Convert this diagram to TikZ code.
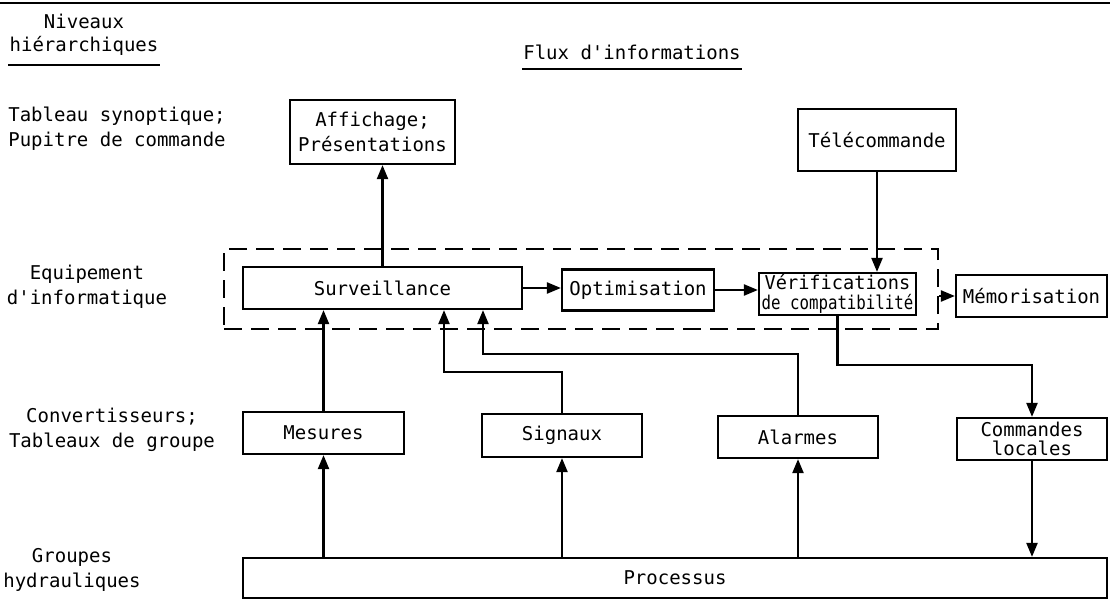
\documentclass[tikz,border=0pt]{standalone}
\usepackage{fontspec}
\usepackage{graphicx}
\setmonofont{DejaVu Sans Mono}
\usetikzlibrary{arrows.meta}
\begin{document}
\begin{tikzpicture}[x=1pt,y=-1pt,
  every node/.style={font=\ttfamily\fontsize{19}{25}\selectfont},
  box/.style={draw, line width=2.2pt, inner sep=0pt, align=center},
  lbl/.style={inner sep=1pt, align=center},
  ulbl/.style={inner xsep=1pt, inner ysep=9pt, align=center},
  arr/.style={line width=2.2pt, -{Triangle[length=14pt,width=11pt]}},
  ln/.style={line width=2.2pt},
  grpbox/.style={draw, line width=2.2pt, dash pattern=on 18pt off 9pt, inner sep=0pt}]
\useasboundingbox (0,0) rectangle (1110,600);

% top rule
\coordinate (tl) at (0,3);
\coordinate (tr) at (1110,3);
\draw[ln] (tl) -- (tr);

% column titles
\node[lbl] (niv) at (84,21) {Niveaux};
\node[ulbl] (hier) at (84,46) {hiérarchiques};
\draw[ln] (hier.south west) -- (hier.south east);
\node[ulbl] (flux) at (632,52) {Flux d'informations};
\draw[ln] (flux.south west) -- (flux.south east);

% level labels
\node[lbl] (lv1) at (117,129) {Tableau synoptique;\\Pupitre de commande};
\node[lbl] (lv2) at (87,287) {Equipement\\d'informatique};
\node[lbl] (lv3) at (112,430) {Convertisseurs;\\Tableaux de groupe};
\node[lbl] (lv4) at (72,570) {Groupes\\hydrauliques};

% dashed group
\node[grpbox, minimum width=714pt, minimum height=80pt] (grp) at (581,289) {};

% boxes
\node[box, minimum width=165pt, minimum height=64pt] (aff) at (372.5,132) {Affichage;\\Présentations};
\node[box, minimum width=158pt, minimum height=62pt] (tele) at (877,140) {Télécommande};
\node[box, minimum width=279pt, minimum height=42pt] (surv) at (382.5,288) {Surveillance};
\node[box, minimum width=152pt, minimum height=41pt] (opt) at (638,290) {Optimisation};
\node[box, minimum width=157pt, minimum height=42pt,
      font=\ttfamily\fontsize{19}{20}\selectfont] (verif) at (837.5,294) {\scalebox{0.98}[1]{Vérifications}\\\scalebox{0.83}[1]{de compatibilité}};
\node[box, minimum width=151pt, minimum height=42pt] (memo) at (1031.5,296) {Mémorisation};
\node[box, minimum width=161pt, minimum height=42pt] (mes) at (323.5,433) {Mesures};
\node[box, minimum width=160pt, minimum height=43pt] (sig) at (562,435.5) {Signaux};
\node[box, minimum width=160pt, minimum height=42pt] (alm) at (798,437) {Alarmes};
\node[box, minimum width=150pt, minimum height=42pt,
      font=\ttfamily\fontsize{19}{19}\selectfont] (cmd) at (1032,439) {Commandes\\locales};
\node[box, minimum width=864pt, minimum height=40pt] (proc) at (675,578) {Processus};

% connectors
\draw[arr] (surv.north) -- (surv.north |- aff.south);
\draw[arr] (tele.south) -- (tele.south |- verif.north);
\draw[arr] (surv.east) -- (surv.east -| opt.west);
\draw[arr] (opt.east) -- (opt.east -| verif.west);
\draw[arr] (grp.east |- memo.west) -- (memo.west);

\draw[arr] (proc.north -| mes.south) -- (mes.south);
\draw[arr] (proc.north -| sig.south) -- (sig.south);
\draw[arr] (proc.north -| alm.south) -- (alm.south);

\draw[arr] (mes.north) -- (mes.north |- surv.south);
\coordinate (sj) at (444,372);
\draw[arr] (sig.north) |- (sj) -- (sj |- surv.south);
\coordinate (aj) at (483,354);
\draw[arr] (alm.north) |- (aj) -- (aj |- surv.south);

\coordinate (vj) at (837.5,365);
\draw[arr] (verif.south) -- (vj) -| (cmd.north);
\draw[arr] (cmd.south) -- (cmd.south |- proc.north);
\end{tikzpicture}
\end{document}
